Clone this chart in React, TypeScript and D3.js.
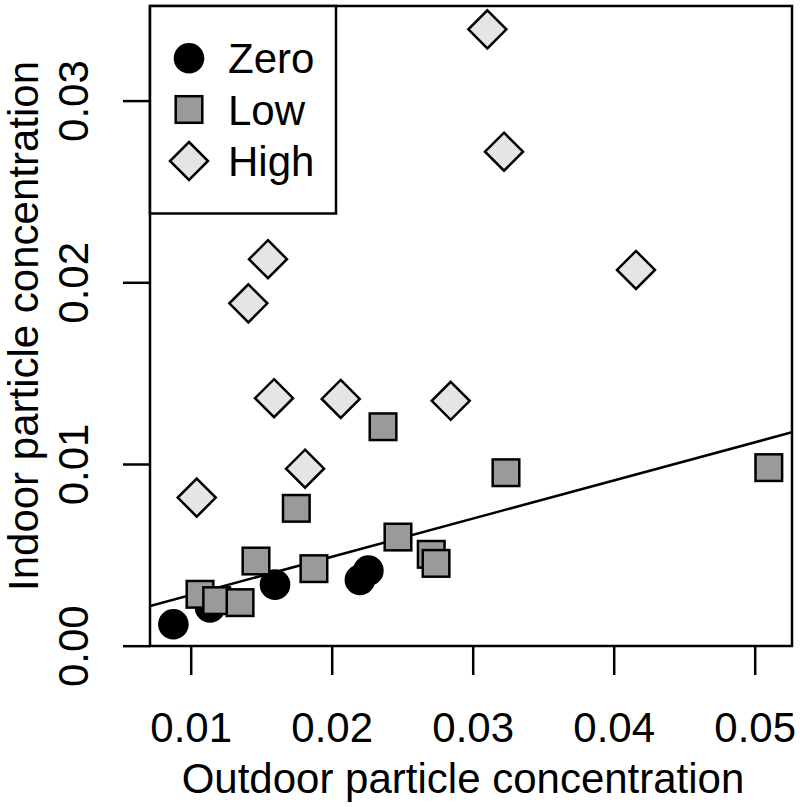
import { useEffect, useRef } from 'react';
import * as d3 from 'd3';

// outdoor (x) vs indoor (y) particle concentration, by exposure group
const zeroX = [0.00877, 0.01137, 0.01598, 0.0220, 0.02260];
const zeroY = [0.00118, 0.00210, 0.00336, 0.00362, 0.00413];

const lowX = [0.02364, 0.03236, 0.0510, 0.01749, 0.02470, 0.02706, 0.02740, 0.01463, 0.01874, 0.01066, 0.01184, 0.01350];
const lowY = [0.01205, 0.00952, 0.0098, 0.00756, 0.00598, 0.00503, 0.00453, 0.00466, 0.00424, 0.00283, 0.00248, 0.00237];

const highX = [0.03104, 0.03222, 0.01548, 0.01409, 0.04158, 0.01591, 0.02064, 0.02844, 0.01811, 0.01043];
const highY = [0.03392, 0.02719, 0.02127, 0.01884, 0.02068, 0.01362, 0.01358, 0.01348, 0.00974, 0.00815];

const legendLabels = ['Zero', 'Low', 'High'];
const xTicks = [0.01, 0.02, 0.03, 0.04, 0.05];
const yTicks = [0, 0.01, 0.02, 0.03];

// fitted line
const fitIntercept = 0.000691;
const fitSlope = 0.21;

const FONT = '"Liberation Sans", Arial, sans-serif';

export default function App() {
    const svgRef = useRef<SVGSVGElement>(null);

    useEffect(() => {
        const svg = d3.select(svgRef.current);
        svg.selectAll('*').remove();

        const left = 150, right = 792, top = 6, bottom = 646;

        const x = d3.scaleLinear().domain([0.007113, 0.052645]).range([left, right]);
        const y = d3.scaleLinear().domain([-0.0000165, 0.035206]).range([bottom, top]);

        svg.append('defs').append('clipPath').attr('id', 'plotclip')
            .append('rect')
            .attr('x', left).attr('y', top)
            .attr('width', right - left).attr('height', bottom - top);

        // regression line
        const [x0, x1] = x.domain();
        svg.append('line')
            .attr('clip-path', 'url(#plotclip)')
            .attr('x1', x(x0)).attr('y1', y(fitIntercept + fitSlope * x0))
            .attr('x2', x(x1)).attr('y2', y(fitIntercept + fitSlope * x1))
            .attr('stroke', '#000')
            .attr('stroke-width', 2.5);

        const circ = (g, cx, cy) => g.append('circle')
            .attr('cx', cx).attr('cy', cy).attr('r', 15.3)
            .attr('fill', '#000');
        const sq = (g, cx, cy) => g.append('rect')
            .attr('x', cx - 13.3).attr('y', cy - 13.3)
            .attr('width', 26.6).attr('height', 26.6)
            .attr('fill', '#9a9a9a').attr('stroke', '#000').attr('stroke-width', 2.5);
        const dia = (g, cx, cy) => g.append('path')
            .attr('d', `M${cx},${cy - 19}L${cx + 19},${cy}L${cx},${cy + 19}L${cx - 19},${cy}Z`)
            .attr('fill', '#e5e5e5').attr('stroke', '#000').attr('stroke-width', 2.5)
            .attr('stroke-linejoin', 'miter');

        // points
        const pts = svg.append('g');
        zeroX.forEach((v, i) => circ(pts, x(v), y(zeroY[i])));
        lowX.forEach((v, i) => sq(pts, x(v), y(lowY[i])));
        highX.forEach((v, i) => dia(pts, x(v), y(highY[i])));

        // box
        svg.append('rect')
            .attr('x', left).attr('y', top)
            .attr('width', right - left).attr('height', bottom - top)
            .attr('fill', 'none').attr('stroke', '#000').attr('stroke-width', 2.5);

        // x axis
        const xa = svg.append('g')
            .attr('transform', `translate(0,${bottom})`)
            .call(d3.axisBottom(x).tickValues(xTicks).tickSize(29).tickPadding(37)
                .tickFormat(d3.format('.2f')));
        xa.select('.domain').remove();
        xa.selectAll('line').attr('stroke-width', 2.5);
        xa.selectAll('text').attr('font-family', FONT).attr('font-size', 42).attr('fill', '#000');

        // y axis
        const ya = svg.append('g')
            .attr('transform', `translate(${left},0)`)
            .call(d3.axisLeft(y).tickValues(yTicks).tickSize(27).tickPadding(0)
                .tickFormat(d3.format('.2f')));
        ya.select('.domain').remove();
        ya.selectAll('line').attr('stroke-width', 2.5);
        ya.selectAll('text')
            .attr('font-family', FONT).attr('font-size', 42).attr('fill', '#000')
            .attr('x', null).attr('dy', null)
            .attr('text-anchor', 'middle')
            .attr('transform', `translate(${87.5 - left},0) rotate(-90)`);

        // axis titles
        svg.append('text')
            .attr('x', (left + right) / 2 - 8).attr('y', 793)
            .attr('text-anchor', 'middle')
            .attr('font-family', FONT).attr('font-size', 42)
            .text('Outdoor particle concentration');
        svg.append('text')
            .attr('transform', `translate(38,${(top + bottom) / 2}) rotate(-90)`)
            .attr('text-anchor', 'middle')
            .attr('font-family', FONT).attr('font-size', 42)
            .text('Indoor particle concentration');

        // legend
        const lg = svg.append('g');
        lg.append('rect')
            .attr('x', left).attr('y', top)
            .attr('width', 336 - left).attr('height', 213.5 - top)
            .attr('fill', '#fff').attr('stroke', '#000').attr('stroke-width', 2.5);
        const rowY = [58.3, 109.5, 161];
        circ(lg, 189, rowY[0]);
        sq(lg, 189, rowY[1]);
        dia(lg, 189, rowY[2]);
        legendLabels.forEach((l, i) => {
            lg.append('text')
                .attr('x', 228).attr('y', rowY[i] + 15)
                .attr('font-family', FONT).attr('font-size', 42)
                .text(l);
        });
    }, []);

    return (
        <svg
            ref={svgRef}
            width={800}
            height={807}
            style={{ position: 'absolute', left: 0, top: 0, background: '#fff' }}
        />
    );
}
